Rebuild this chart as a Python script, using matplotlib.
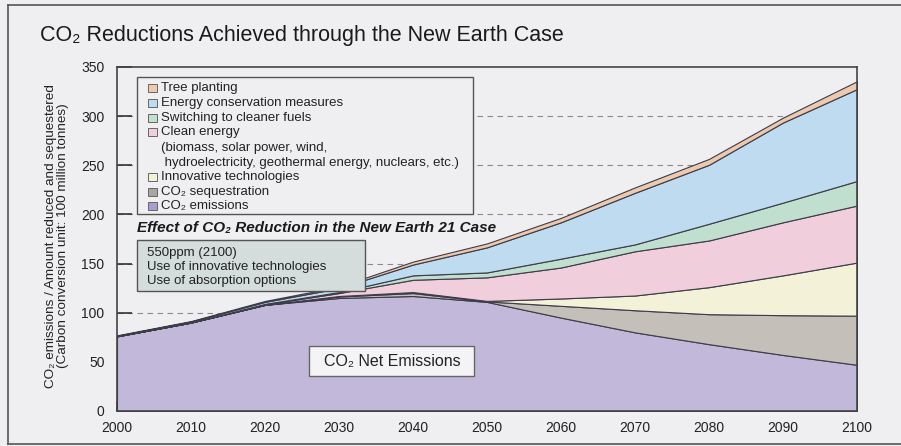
import matplotlib
matplotlib.use('Agg')
import matplotlib.pyplot as plt
from matplotlib.patches import Rectangle
from matplotlib.lines import Line2D
import numpy as np

plt.rcParams['font.family'] = ['Liberation Sans', 'DejaVu Sans']

# data, 100 million tonnes (carbon)
years = [2000, 2010, 2020, 2030, 2040, 2050, 2060, 2070, 2080, 2090, 2100]
net_emissions = [76, 90, 108, 115, 117, 111, 95, 80, 68, 57, 47]
sequestration = [0, 0, 0, 1.5, 3, 0.5, 12, 22.5, 30.5, 40.5, 50]
innovative = [0, 0, 0, 0.5, 1, 0.5, 7.5, 15, 27.5, 40.5, 54]
clean_energy = [0, 0, 0.5, 3, 12.5, 24, 31.5, 45, 47.5, 54, 58]
cleaner_fuels = [0, 0, 0.5, 1, 4.5, 5, 9, 7, 17, 20, 25]
conservation = [0.5, 1, 2, 4, 11, 25.5, 37, 52.5, 60, 81.5, 93.5]
tree_planting = [0.5, 0.5, 1, 1.5, 3, 4, 4.5, 5.5, 6, 5, 8]

series = [net_emissions, sequestration, innovative, clean_energy,
          cleaner_fuels, conservation, tree_planting]
colors = ['#c1b8da', '#c5bfba', '#f3f1d7', '#f1cedc',
          '#c0dfcf', '#bedbef', '#ecc9af']

legend_entries = [
    ('Tree planting', '#ecc9af'),
    ('Energy conservation measures', '#bedbef'),
    ('Switching to cleaner fuels', '#c0dfcf'),
    ('Clean energy', '#f1cedc'),
    ('(biomass, solar power, wind,', None),
    (' hydroelectricity, geothermal energy, nuclears, etc.)', None),
    ('Innovative technologies', '#f3f1d7'),
    ('CO\u2082 sequestration', '#a9a5a2'),
    ('CO\u2082 emissions', '#a99fcf'),
]

BG = '#efeff1'
EDGE = '#3c3c48'

fig = plt.figure(figsize=(9.01, 4.46), dpi=100, facecolor=BG)
ax = fig.add_axes([117 / 901, 1 - 411 / 446, 740 / 901, 344 / 446])
ax.set_facecolor(BG)

ax.stackplot(years, *series, colors=colors, edgecolor=EDGE,
             linewidth=0.8, zorder=3)

ax.set_xlim(2000, 2100)
ax.set_ylim(0, 350)
ax.set_xticks(range(2000, 2101, 10))
ax.set_yticks(range(0, 351, 50))
ax.tick_params(axis='x', direction='in', length=7, width=1.2, pad=7,
               labelsize=10, color='#333333', labelcolor='#222222')
ax.tick_params(axis='y', direction='in', length=11, width=1.2, pad=9,
               labelsize=10, color='#333333', labelcolor='#222222')
for sp in ax.spines.values():
    sp.set_color('#444444')
    sp.set_linewidth(1.2)
    sp.set_zorder(6)

for v in [100, 150, 200, 250, 300]:
    ax.axhline(v, color='#8a8a8a', lw=0.8, ls=(0, (5, 4)), zorder=1)

# legend box
ax.add_patch(Rectangle((0.027, 0.573), 0.454, 0.398, transform=ax.transAxes,
                       facecolor=BG, edgecolor='#555555', lw=1.0, zorder=4))
ys = [88, 103, 118, 132, 148, 163, 177, 192, 206]
for (label, col), py in zip(legend_entries, ys):
    yy = (411 - py) / 344
    if col is not None:
        ax.add_patch(Rectangle(((148 - 117) / 740, yy - 0.012), 9 / 740, 0.024,
                               transform=ax.transAxes, facecolor=col,
                               edgecolor='#666666', lw=0.7, zorder=5))
    ax.text((161 - 117) / 740, yy, label, transform=ax.transAxes,
            fontsize=9.5, va='center', ha='left', color='#222222', zorder=5)

ax.text(0.027, (411 - 228) / 344,
        'Effect of CO\u2082 Reduction in the New Earth 21 Case',
        transform=ax.transAxes, fontsize=11, fontweight='bold',
        fontstyle='italic', va='center', ha='left', color='#1a1a1a', zorder=5)

ax.add_patch(Rectangle((0.027, 0.349), 0.308, 0.148, transform=ax.transAxes,
                       facecolor='#d4dcdc', edgecolor='#555555', lw=1.0,
                       zorder=4))
for txt, py in zip(['550ppm (2100)', 'Use of innovative technologies',
                    'Use of absorption options'], [253, 267, 281]):
    ax.text((147 - 117) / 740, (411 - py) / 344, txt, transform=ax.transAxes,
            fontsize=9.5, va='center', ha='left', color='#222222', zorder=5)

ax.add_patch(Rectangle((0.259, 0.102), 0.223, 0.087, transform=ax.transAxes,
                       facecolor='#f4f4f6', edgecolor='#666666', lw=1.0,
                       zorder=4))
ax.text(0.372, 0.145, 'CO\u2082 Net Emissions', transform=ax.transAxes,
        fontsize=11.5, va='center', ha='center', color='#222222', zorder=5)

fig.text(40 / 901, 1 - 36 / 446,
         'CO\u2082 Reductions Achieved through the New Earth Case',
         fontsize=15.5, va='center', ha='left', color='#1a1a1a')
fig.text(57 / 901, 1 - 236 / 446,
         'CO\u2082 emissions / Amount reduced and sequestered\n'
         '(Carbon conversion unit: 100 million tonnes)',
         rotation=90, fontsize=9.7, va='center', ha='center',
         multialignment='center', linespacing=0.95, color='#222222')

# outer frame of the figure panel
fig.add_artist(Line2D([8 / 901, 8 / 901], [1 - 5 / 446, 1 - 444 / 446],
                      transform=fig.transFigure, color='#555555', lw=1.2))
fig.add_artist(Line2D([8 / 901, 1], [1 - 5 / 446, 1 - 5 / 446],
                      transform=fig.transFigure, color='#555555', lw=1.2))
fig.add_artist(Line2D([8 / 901, 1], [1 - 444 / 446, 1 - 444 / 446],
                      transform=fig.transFigure, color='#555555', lw=1.2))

fig.savefig('out.png', dpi=100, facecolor=BG)
